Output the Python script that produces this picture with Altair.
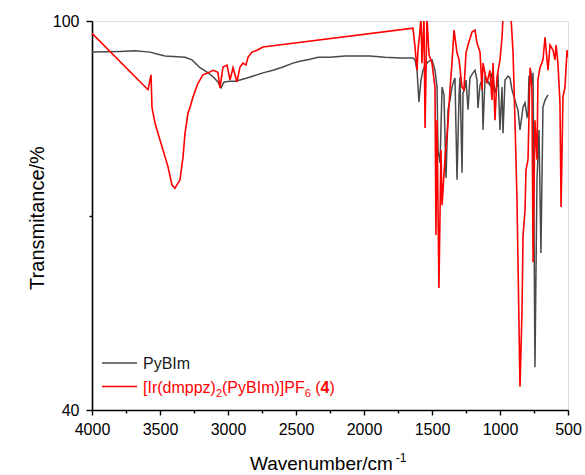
import altair as alt
import pandas as pd

# ---- data ----
pybim_wn = [4000, 3794, 3684, 3574, 3522, 3463, 3316, 3265, 3206, 3154, 3110, 3074, 3051, 3029,
            2985, 2949, 2912, 2860, 2743, 2669, 2596, 2522, 2471, 2397, 2338, 2250, 2140, 1956,
            1846, 1735, 1640, 1625, 1610, 1596, 1581, 1566, 1551, 1529, 1500, 1478, 1463, 1456,
            1441, 1426, 1412, 1397, 1382, 1368, 1353, 1338, 1331, 1316, 1301, 1294, 1279, 1272,
            1257, 1250, 1235, 1221, 1199, 1184, 1169, 1162, 1147, 1132, 1125, 1110, 1096, 1074,
            1059, 1051, 1037, 1022, 1015, 1000, 985, 978, 963, 941, 926, 912, 890, 875, 868, 853,
            838, 831, 816, 801, 794, 787, 772, 765, 757, 743, 728, 713, 699, 684, 669, 647]
pybim_t = [95.2, 95.3, 95.4, 95.2, 94.9, 94.6, 94.4, 94.0, 92.8, 92.1, 91.4, 90.6, 89.7, 90.6,
           90.7, 90.7, 90.9, 91.2, 92.0, 92.4, 92.9, 93.5, 93.8, 94.1, 94.4, 94.4, 94.6, 94.6,
           94.4, 94.3, 94.3, 94.0, 92.4, 87.5, 90.9, 92.4, 93.1, 93.7, 94.0, 92.4, 89.8, 80.1,
           78.1, 89.8, 88.6, 75.8, 86.3, 87.8, 89.8, 90.9, 91.2, 75.5, 88.6, 91.4, 76.6, 88.9,
           89.8, 90.9, 86.3, 91.2, 92.0, 92.4, 90.9, 86.6, 90.1, 90.9, 83.2, 91.4, 90.9, 90.1,
           92.0, 91.2, 88.9, 90.1, 92.0, 83.2, 89.8, 82.7, 90.9, 91.5, 91.2, 89.4, 87.8, 86.7,
           86.3, 83.2, 85.5, 86.7, 87.4, 85.2, 85.5, 91.4, 92.0, 90.1, 92.0, 46.6, 75.5, 83.2,
           64.2, 86.7, 87.8, 88.6]

complex_wn = [4000, 3588, 3566, 3559, 3537, 3515, 3478, 3441, 3412, 3390, 3353, 3331, 3316, 3294,
              3279, 3257, 3221, 3184, 3147, 3110, 3074, 3059, 3037, 3007, 2985, 2963, 2934, 2912,
              2890, 2868, 2853, 2824, 2787, 2743, 1640, 1625, 1610, 1603, 1588, 1581, 1574, 1559,
              1551, 1537, 1522, 1500, 1478, 1471, 1463, 1449, 1434, 1426, 1404, 1382, 1368, 1353,
              1338, 1316, 1301, 1279, 1265, 1250, 1235, 1206, 1184, 1169, 1147, 1132, 1125, 1096,
              1074, 1059, 1051, 1037, 1022, 1000, 985, 978, 919, 904, 890, 875, 853, 838, 831, 816,
              809, 794, 779, 765, 757, 743, 728, 721, 706, 684, 669, 654, 647, 632, 610, 596, 588,
              574, 559, 551, 537, 522, 507, 500]
complex_t = [98.1, 89.4, 91.7, 86.7, 84.3, 82.7, 80.1, 77.5, 74.7, 74.2, 75.5, 79.0, 82.7, 85.8,
             86.7, 88.3, 90.4, 91.7, 92.0, 92.4, 92.1, 89.7, 92.9, 93.2, 90.9, 92.8, 90.6, 92.9,
             93.5, 93.2, 94.4, 95.2, 95.5, 96.0, 98.9, 96.0, 92.4, 95.5, 98.6, 100.5, 93.5, 100.5,
             83.5, 100.5, 94.8, 93.5, 89.8, 67.0, 84.7, 58.8, 80.1, 71.6, 79.0, 84.3, 89.4, 93.5,
             98.6, 95.1, 94.0, 89.8, 89.4, 95.1, 96.3, 98.3, 98.6, 96.6, 95.2, 89.4, 93.5, 90.4,
             92.4, 87.8, 93.5, 84.7, 91.4, 94.0, 97.5, 100.5, 100.5, 95.1, 84.7, 72.4, 43.6, 55.4,
             66.7, 70.8, 77.0, 78.6, 92.8, 89.4, 62.8, 84.7, 78.6, 90.9, 92.8, 94.0, 97.5, 94.0,
             92.4, 96.3, 95.5, 94.0, 96.3, 93.5, 87.4, 71.3, 88.3, 89.8, 95.5, 94.4]

x_major = [4000, 3500, 3000, 2500, 2000, 1500, 1000, 500]
x_minor = [3750, 3250, 2750, 2250, 1750, 1250, 750]
y_major = [40, 100]
y_minor = [70]

FONT = "Liberation Sans"

df_a = pd.DataFrame({"wn": pybim_wn, "t": pybim_t, "i": range(len(pybim_wn))})
df_b = pd.DataFrame({"wn": complex_wn, "t": complex_t, "i": range(len(complex_wn))})

xs = alt.Scale(domain=[500, 4000], reverse=True, nice=False, zero=False)
ys = alt.Scale(domain=[40, 100], nice=False, zero=False)

common_axis = dict(grid=False, domainColor="black", tickColor="black", labelColor="black",
                   labelFont=FONT, labelFontSize=16, domainWidth=1.6, tickWidth=1.4, title=None)

x_main = alt.Axis(values=x_major, tickSize=5, labelPadding=6, format="d", orient="bottom",
                  labelFlush=False, labelOverlap=False, **common_axis)
y_main = alt.Axis(values=y_major, tickSize=6, labelPadding=7, orient="left", **common_axis)
x_min = alt.Axis(values=x_minor, tickSize=3, labels=False, domain=False, orient="bottom",
                 grid=False, tickColor="black", tickWidth=1.4, title=None)
y_min = alt.Axis(values=y_minor, tickSize=3, labels=False, domain=False, orient="left",
                 grid=False, tickColor="black", tickWidth=1.4, title=None)

gray = alt.Chart(df_a).mark_line(color="#4a4a4a", strokeWidth=1.5, clip=True).encode(
    x=alt.X("wn:Q", scale=xs, axis=x_min),
    y=alt.Y("t:Q", scale=ys, axis=y_min),
    order="i:Q",
)
red = alt.Chart(df_b).mark_line(color="#ff0000", strokeWidth=1.6, clip=True).encode(
    x=alt.X("wn:Q", scale=xs, axis=x_main),
    y=alt.Y("t:Q", scale=ys, axis=y_main),
    order="i:Q",
)

one = pd.DataFrame({"k": [0]})


def txt(s, x, y, size=16, color="black", weight="normal", angle=0, align="left"):
    return alt.Chart(one).mark_text(text=s, font=FONT, fontSize=size, color=color,
                                    fontWeight=weight, align=align, baseline="alphabetic",
                                    angle=angle).encode(x=alt.value(x), y=alt.value(y))


def rule(x1, x2, y, color, w):
    return alt.Chart(one).mark_rule(color=color, strokeWidth=w).encode(
        x=alt.value(x1), x2=alt.value(x2), y=alt.value(y))


# legend (composed so the subscripts and bold 4 stay real text)
red_c = "#ff0000"
lx = 51
by = 371.5
w1 = 4.556 * 16
w2 = 0.556 * 11
w3 = 5.167 * 16
wsp = 0.278 * 16
wpar = 0.333 * 16
w6 = 0.556 * 16
x6 = lx + w1 + 2 * w2 + w3
legend = [
    rule(10, 45, 342, "#4a4a4a", 1.5),
    txt("PyBIm", lx, 347.5, color="#1a1a1a"),
    rule(10, 45, 365.5, red_c, 1.6),
    txt("[Ir(dmppz)", lx, by, color=red_c),
    txt("2", lx + w1, by + 4, size=11, color=red_c),
    txt("(PyBIm)]PF", lx + w1 + w2, by, color=red_c),
    txt("6", lx + w1 + w2 + w3, by + 4, size=11, color=red_c),
    txt("(", x6 + wsp, by, color=red_c),
    txt("4", x6 + wsp + wpar, by, color=red_c, weight="bold"),
    txt(")", x6 + wsp + wpar + w6, by, color=red_c),
]

titles = [
    txt("Wavenumber/cm", 158, 449, size=19),
    txt("-1", 158 + 7.613 * 19 + 1, 441, size=12),
    txt("Transmitance/%", -48, 197, size=20, angle=270, align="center"),
]

chart = alt.layer(gray, red, *legend, *titles).resolve_axis(
    x="independent", y="independent"
).properties(
    width=476, height=389,
    autosize=alt.AutoSizeParams(type="none"),
    padding={"left": 92, "top": 21, "right": 17, "bottom": 65},
).configure_view(strokeWidth=0).configure(background="white")

chart.save("out.html", embed_options={"renderer": "svg", "actions": False})
